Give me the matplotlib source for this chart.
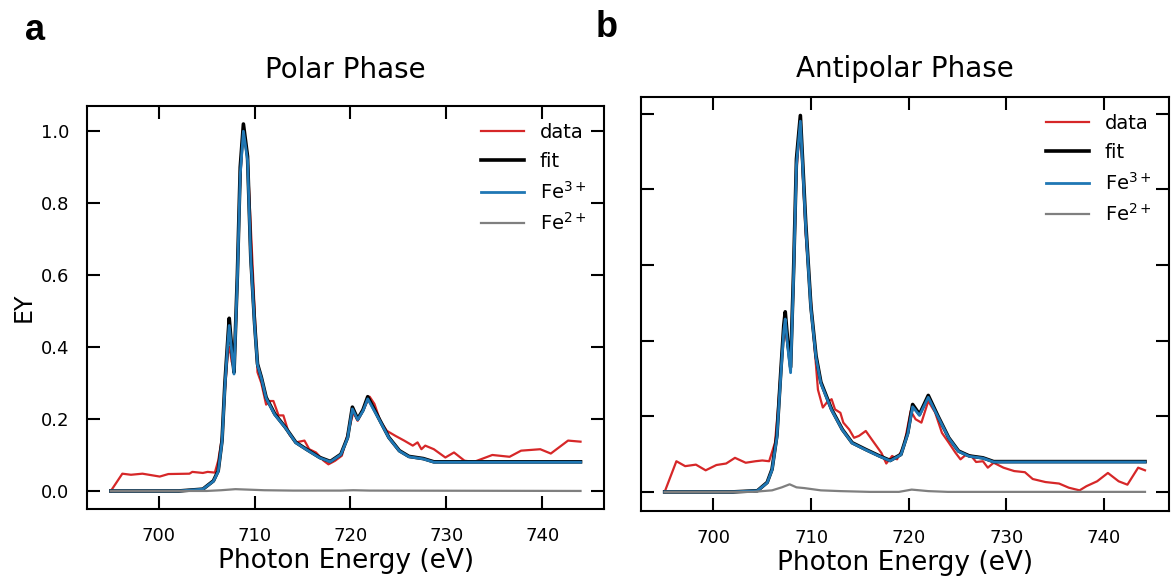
import matplotlib.pyplot as plt

# ---- panel a : polar phase ----
a_data_e = [695.0, 696.2, 697.1, 698.3, 700.1, 701.0, 703.2, 703.5, 704.6, 705.1, 705.85,
            706.2, 706.6, 706.9, 707.2, 707.4, 707.6, 707.85, 708.1, 708.4, 708.7, 708.9,
            709.26, 709.8, 710.3, 710.7, 711.2, 711.6, 711.96, 712.5, 713.0, 713.6, 714.3,
            715.2, 715.7, 716.4, 717.2, 717.7, 718.4, 719.1, 719.9, 720.3, 720.75, 721.3,
            722.0, 722.5, 723.1, 723.8, 724.7, 725.6, 726.5, 727.0, 727.4, 727.8, 728.7,
            729.9, 730.8, 731.9, 732.9, 734.8, 736.6, 737.8, 739.8, 740.9, 742.7, 744.0]
a_data = [0.0, 0.048, 0.045, 0.048, 0.040, 0.047, 0.048, 0.053, 0.050, 0.053, 0.051,
          0.084, 0.149, 0.28, 0.38, 0.40, 0.36, 0.34, 0.50, 0.80, 0.97, 0.99,
          0.93, 0.62, 0.33, 0.30, 0.24, 0.25, 0.25, 0.21, 0.21, 0.158, 0.135,
          0.14, 0.116, 0.107, 0.084, 0.074, 0.084, 0.098, 0.177, 0.219, 0.195, 0.223,
          0.262, 0.242, 0.195, 0.167, 0.153, 0.14, 0.126, 0.135, 0.116, 0.126, 0.116,
          0.093, 0.107, 0.084, 0.081, 0.10, 0.095, 0.112, 0.116, 0.104, 0.14, 0.137]

a_fit_e = [695.0, 702.1, 704.6, 705.7, 706.2, 706.6, 706.9, 707.2, 707.35, 707.6, 707.85,
           708.2, 708.5, 708.83, 709.26, 709.6, 710.0, 710.3, 710.7, 711.2, 712.1, 713.2,
           714.3, 715.4, 716.8, 717.9, 719.0, 719.7, 720.2, 720.75, 721.3, 721.8, 722.9,
           724.0, 725.1, 726.1, 727.6, 728.7, 744.0]
a_fit = [0.0, 0.0, 0.005, 0.028, 0.056, 0.14, 0.30, 0.42, 0.48, 0.40, 0.33,
         0.60, 0.90, 1.02, 0.93, 0.65, 0.465, 0.353, 0.316, 0.26, 0.214, 0.177,
         0.135, 0.116, 0.093, 0.082, 0.102, 0.149, 0.233, 0.20, 0.225, 0.262, 0.205,
         0.149, 0.112, 0.096, 0.090, 0.081, 0.081]
a_fe3 = [0.0, 0.0, 0.005, 0.027, 0.054, 0.137, 0.29, 0.41, 0.46, 0.39, 0.325,
         0.59, 0.88, 1.00, 0.92, 0.645, 0.46, 0.35, 0.314, 0.258, 0.212, 0.176,
         0.134, 0.115, 0.092, 0.081, 0.101, 0.147, 0.228, 0.198, 0.222, 0.256, 0.203,
         0.148, 0.111, 0.095, 0.089, 0.080, 0.080]

a_fe2_e = [695.0, 705.0, 706.5, 707.5, 708.0, 709.0, 711.0, 714.0, 719.0, 720.3, 722.0, 744.0]
a_fe2 = [0.0, 0.0, 0.002, 0.004, 0.005, 0.004, 0.002, 0.001, 0.001, 0.002, 0.001, 0.0]

# ---- panel b : antipolar phase ----
b_data_e = [695.0, 696.2, 697.1, 698.2, 699.2, 700.3, 701.3, 702.2, 703.3, 704.3, 705.0,
            705.7, 706.3, 706.6, 707.0, 707.25, 707.5, 707.9, 708.2, 708.5, 708.9,
            709.45, 710.2, 710.7, 711.2, 711.6, 712.1, 712.45, 713.0, 713.3, 713.9, 714.4,
            714.9, 715.6, 716.2, 716.7, 717.2, 717.7, 718.3, 718.8, 719.5, 720.2, 720.7,
            721.3, 722.0, 722.7, 723.4, 724.1, 724.8, 725.3, 725.9, 726.4, 726.9, 727.6,
            728.1, 728.7, 729.7, 730.8, 731.9, 732.7, 734.0, 735.4, 736.4, 737.5, 738.2,
            739.3, 740.4, 741.5, 742.4, 743.5, 744.2]
b_data = [0.0, 0.081, 0.068, 0.072, 0.057, 0.071, 0.075, 0.09, 0.077, 0.081, 0.083,
          0.081, 0.13, 0.218, 0.36, 0.44, 0.40, 0.34, 0.55, 0.85, 0.97,
          0.68, 0.43, 0.27, 0.223, 0.236, 0.245, 0.218, 0.209, 0.183, 0.165, 0.143,
          0.148, 0.161, 0.139, 0.121, 0.103, 0.075, 0.095, 0.086, 0.121, 0.214, 0.192,
          0.183, 0.24, 0.21, 0.156, 0.13, 0.103, 0.086, 0.099, 0.095, 0.079, 0.081,
          0.064, 0.077, 0.064, 0.055, 0.052, 0.034, 0.026, 0.022, 0.011, 0.004, 0.015,
          0.028, 0.05, 0.028, 0.019, 0.064, 0.057]

b_fit_e = [695.0, 702.0, 704.5, 705.5, 706.0, 706.5, 706.9, 707.2, 707.35, 707.6, 707.9,
           708.2, 708.5, 708.9, 709.45, 709.98, 710.5, 711.0, 712.1, 713.2, 714.2,
           715.6, 717.0, 718.1, 719.2, 719.9, 720.4, 721.1, 722.0, 723.0, 724.1, 725.1,
           726.2, 727.6, 728.7, 744.2]
b_fit = [0.0, 0.0, 0.003, 0.025, 0.06, 0.15, 0.32, 0.44, 0.476, 0.40, 0.33,
         0.58, 0.88, 0.995, 0.71, 0.49, 0.36, 0.29, 0.218, 0.165, 0.13,
         0.112, 0.095, 0.083, 0.099, 0.156, 0.231, 0.205, 0.255, 0.20, 0.143, 0.108,
         0.095, 0.09, 0.08, 0.08]
b_fe3 = [0.0, 0.0, 0.003, 0.024, 0.058, 0.145, 0.31, 0.425, 0.457, 0.385, 0.315,
         0.565, 0.865, 0.98, 0.70, 0.485, 0.355, 0.287, 0.216, 0.164, 0.129,
         0.111, 0.094, 0.082, 0.098, 0.153, 0.225, 0.202, 0.25, 0.198, 0.142, 0.107,
         0.094, 0.089, 0.079, 0.079]

b_fe2_e = [695.0, 704.0, 706.0, 707.0, 707.8, 708.5, 709.3, 711.0, 713.0, 716.0, 719.0,
           720.3, 722.0, 724.0, 744.2]
b_fe2 = [0.0, 0.0, 0.004, 0.012, 0.02, 0.012, 0.01, 0.004, 0.002, 0.0, 0.0,
         0.006, 0.002, 0.0, 0.0]

x_ticks = [700, 710, 720, 730, 740]
y_ticks = [0.0, 0.2, 0.4, 0.6, 0.8, 1.0]

fig = plt.figure(figsize=(11.71, 5.8), dpi=100)
ax1 = fig.add_axes([0.0746, 0.1219, 0.4412, 0.6959])
ax2 = fig.add_axes([0.5471, 0.1195, 0.4512, 0.7138])


def draw(ax, de, d, fe, fit, fe3, e2, fe2):
    ax.plot(de, d, color='#d62728', lw=1.6, label='data')
    ax.plot(fe, fit, color='black', lw=2.6, label='fit')
    ax.plot(fe, fe3, color='#1f77b4', lw=2.0, label='Fe$^{3+}$')
    ax.plot(e2, fe2, color='#7f7f7f', lw=1.6, label='Fe$^{2+}$')
    ax.set_xticks(x_ticks)
    ax.set_yticks(y_ticks)
    ax.tick_params(direction='in', length=9.5, width=1.5, pad=13, labelsize=13,
                   top=True, right=True)
    for s in ax.spines.values():
        s.set_linewidth(1.5)
    ax.legend(loc='upper right', frameon=False, fontsize=14, handlelength=2.2)
    ax.set_xlabel('Photon Energy (eV)', fontsize=19, labelpad=2)


draw(ax1, a_data_e, a_data, a_fit_e, a_fit, a_fe3, a_fe2_e, a_fe2)
draw(ax2, b_data_e, b_data, b_fit_e, b_fit, b_fe3, b_fe2_e, b_fe2)

ax1.set_ylabel('EY', fontsize=17, labelpad=4)
ax2.tick_params(labelleft=False)

ax1.set_title('Polar Phase', fontsize=20, pad=20)
ax2.set_title('Antipolar Phase', fontsize=20, pad=14)

fig.text(0.021, 0.931, 'a', fontsize=26, fontweight='bold', family='Liberation Sans')
fig.text(0.509, 0.937, 'b', fontsize=26, fontweight='bold', family='Liberation Sans')

fig.savefig('out.png', dpi=100)
